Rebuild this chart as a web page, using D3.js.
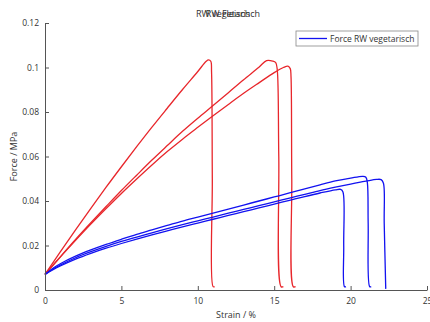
<!DOCTYPE html>
<html>
<head>
<meta charset="utf-8">
<script src="https://cdn.jsdelivr.net/npm/d3@7"></script>
<style>
  body { margin: 0; background: #fff; }
  svg { display: block; font-family: 'Open Sans', 'Noto Sans', sans-serif; }
</style>
</head>
<body>
<div id="chart"></div>
<script>
// tick values
var xTicks = [0, 5, 10, 15, 20, 25]
var yTicks = [0, 0.02, 0.04, 0.06, 0.08, 0.1, 0.12]
var titles = ['RW Fleisch', 'RW vegetarisch']
var legendLabel = 'Force RW vegetarisch'

// RW Fleisch, three samples (strain %, force MPa)
var fleisch1 = [
  [0, 0.007], [1, 0.0171], [2, 0.027], [3, 0.0367], [4, 0.0462], [5, 0.0554],
  [6, 0.0644], [7, 0.0732], [8, 0.0817], [9, 0.0901], [10, 0.0982],
  [10.55, 0.1028], [10.7, 0.1034], [10.85, 0.1028], [10.9, 0.098],
  [10.95, 0.05], [11.0, 0.0015], [11.1, 0.0015]
]
var fleisch2 = [
  [0, 0.007], [1, 0.0149], [2, 0.0227], [3, 0.0302], [4, 0.0375], [5, 0.0447],
  [6, 0.0516], [7, 0.0584], [8, 0.0649], [9, 0.0713], [10, 0.0772],
  [11, 0.0829], [12, 0.0887], [13, 0.0945], [14, 0.1001], [14.5, 0.1031],
  [14.9, 0.1029], [15.1, 0.1022], [15.2, 0.099], [15.3, 0.06],
  [15.45, 0.0015], [15.6, 0.0015]
]
var fleisch3 = [
  [0, 0.007], [1, 0.0148], [2, 0.0223], [3, 0.0296], [4, 0.0366], [5, 0.0434],
  [6, 0.0499], [7, 0.0562], [8, 0.0622], [9, 0.0678], [10, 0.0731],
  [11, 0.0783], [12, 0.0834], [13, 0.0884], [14, 0.0931], [15, 0.0977],
  [15.6, 0.1], [15.9, 0.1006], [16.05, 0.0995], [16.1, 0.096],
  [16.15, 0.05], [16.25, 0.0015], [16.4, 0.0015]
]

// RW vegetarisch, three samples
var veg1 = [
  [0, 0.007], [0.5, 0.0097], [1, 0.0118], [2, 0.0152], [3, 0.018], [4, 0.0205],
  [5, 0.0228], [6, 0.025], [7, 0.027], [8, 0.029], [9, 0.031], [10, 0.0328],
  [11, 0.0346], [12, 0.0364], [13, 0.0382], [14, 0.04], [15, 0.0418],
  [16, 0.0436], [17, 0.0455], [18, 0.0473], [19, 0.049], [20, 0.0503],
  [20.8, 0.0511], [21.0, 0.0507], [21.1, 0.048], [21.15, 0.03],
  [21.25, 0.0015], [21.35, 0.0015]
]
var veg2 = [
  [0, 0.007], [0.5, 0.0093], [1, 0.0112], [2, 0.0145], [3, 0.0172], [4, 0.0196],
  [5, 0.0218], [6, 0.0238], [7, 0.0257], [8, 0.0276], [9, 0.0294], [10, 0.0311],
  [11, 0.0328], [12, 0.0345], [13, 0.0362], [14, 0.0379], [15, 0.0396],
  [16, 0.0413], [17, 0.043], [18, 0.0447], [19, 0.0462], [20, 0.0476],
  [21, 0.0489], [21.7, 0.0497], [22.0, 0.0496], [22.15, 0.048],
  [22.2, 0.03], [22.3, 0.0005]
]
var veg3 = [
  [0, 0.007], [0.5, 0.009], [1, 0.0108], [2, 0.0139], [3, 0.0165], [4, 0.0188],
  [5, 0.0209], [6, 0.0229], [7, 0.0248], [8, 0.0266], [9, 0.0284], [10, 0.0301],
  [11, 0.0318], [12, 0.0335], [13, 0.0352], [14, 0.0369], [15, 0.0386],
  [16, 0.0403], [17, 0.042], [18, 0.0436], [19, 0.045], [19.35, 0.0452],
  [19.5, 0.044], [19.55, 0.02], [19.6, 0.0015], [19.7, 0.0015]
]

var fleischSeries = [fleisch1, fleisch2, fleisch3]
var vegSeries = [veg1, veg2, veg3]

var width = 430
var height = 322
var margin = { top: 23, right: 3, bottom: 32, left: 45 }
var w = width - margin.left - margin.right
var h = height - margin.top - margin.bottom

var svg = d3
  .select('#chart')
  .append('svg')
  .attr('width', width)
  .attr('height', height)

var g = svg
  .append('g')
  .attr('transform', 'translate(' + margin.left + ',' + margin.top + ')')

var x = d3.scaleLinear().domain([0, 25]).range([0, w])
var y = d3.scaleLinear().domain([0, 0.12]).range([h, 0])

var line = d3
  .line()
  .x(function (d) { return x(d[0]) })
  .y(function (d) { return y(d[1]) })
  .curve(d3.curveCatmullRom.alpha(0.5))

g.selectAll('.fleisch')
  .data(fleischSeries)
  .enter()
  .append('path')
  .attr('class', 'fleisch')
  .attr('d', line)
  .attr('fill', 'none')
  .attr('stroke', '#e8262b')
  .attr('stroke-width', 1.3)

g.selectAll('.veg')
  .data(vegSeries)
  .enter()
  .append('path')
  .attr('class', 'veg')
  .attr('d', line)
  .attr('fill', 'none')
  .attr('stroke', '#1212f0')
  .attr('stroke-width', 1.3)

// axes, MATLAB style ticks pointing inward
var xAxis = g
  .append('g')
  .attr('transform', 'translate(0,' + h + ')')
  .call(d3.axisBottom(x).tickValues(xTicks).tickSizeInner(-4).tickSizeOuter(0).tickPadding(6))
var yAxis = g
  .append('g')
  .call(d3.axisLeft(y).tickValues(yTicks).tickSizeInner(-4).tickSizeOuter(0).tickPadding(6)
    .tickFormat(function (d) { return d3.format('~g')(d) }))

;[xAxis, yAxis].forEach(function (a) {
  a.select('.domain').attr('stroke', '#555').attr('stroke-width', 1)
  a.selectAll('.tick line').attr('stroke', '#555')
  a.selectAll('text')
    .style('font-family', "'Open Sans', sans-serif")
    .style('font-size', '8.5px')
    .attr('fill', '#333')
})
xAxis.selectAll('text').attr('dy', '0.9em')

svg
  .append('text')
  .attr('x', 236)
  .attr('y', 318)
  .attr('text-anchor', 'middle')
  .style('font-size', '9px')
  .attr('fill', '#333')
  .text('Strain / %')

svg
  .append('text')
  .attr('transform', 'translate(17,' + (margin.top + h / 2) + ') rotate(-90)')
  .attr('text-anchor', 'middle')
  .style('font-size', '9px')
  .attr('fill', '#333')
  .text('Force / MPa')

// the two titles are drawn on top of each other
svg
  .selectAll('.title')
  .data(titles)
  .enter()
  .append('text')
  .attr('class', 'title')
  .attr('x', 228)
  .attr('y', 17)
  .attr('text-anchor', 'middle')
  .style('font-size', '9px')
  .attr('fill', '#333')
  .text(function (d) { return d })

// legend
var legend = svg.append('g').attr('transform', 'translate(296,31)')
legend
  .append('rect')
  .attr('width', 122)
  .attr('height', 15)
  .attr('fill', '#fff')
  .attr('stroke', '#888')
  .attr('stroke-width', 0.8)
legend
  .append('line')
  .attr('x1', 3)
  .attr('x2', 31)
  .attr('y1', 7.5)
  .attr('y2', 7.5)
  .attr('stroke', '#1212f0')
  .attr('stroke-width', 1.3)
legend
  .append('text')
  .attr('x', 34)
  .attr('y', 10.5)
  .style('font-size', '8.5px')
  .attr('fill', '#333')
  .text(legendLabel)
</script>
</body>
</html>
